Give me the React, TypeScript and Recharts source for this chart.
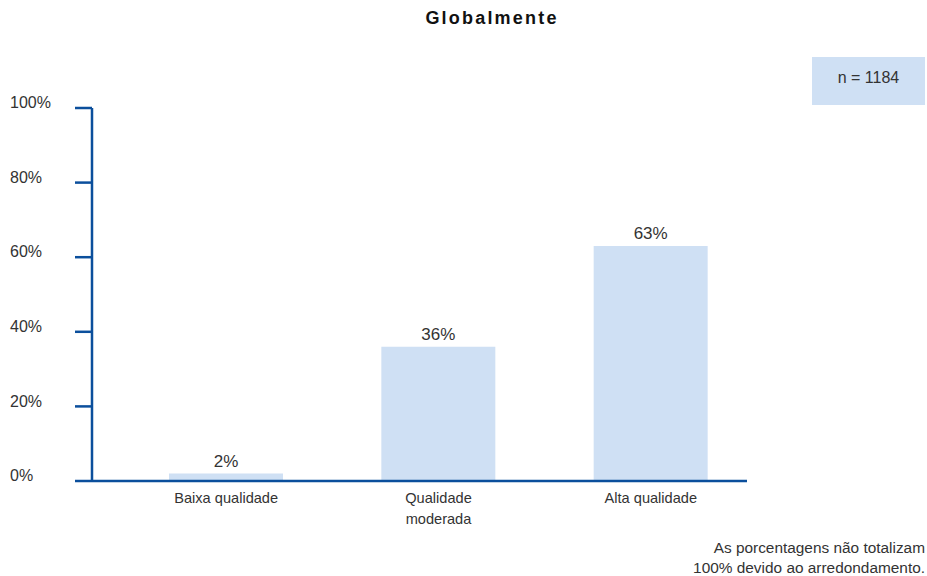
import { BarChart, Bar, XAxis, YAxis, LabelList } from 'recharts';

const categories = ['Baixa qualidade', 'Qualidade moderada', 'Alta qualidade'];
const categoryLines = [['Baixa qualidade'], ['Qualidade', 'moderada'], ['Alta qualidade']];
const shares = [2, 36, 63];
const yTicks = [0, 20, 40, 60, 80, 100];

const data = categories.map((name, i) => ({ name, value: shares[i] }));

const AXIS = '#0b4f9c';
const BAR = '#cfe0f4';
const TEXT = '#333333';
const FONT = '"Liberation Sans", Arial, sans-serif';

function YTick({ y, payload }: any) {
  return (
    <text x={10} y={y - 4} textAnchor="start" dominantBaseline="middle" fontSize={16} fill={TEXT} fontFamily={FONT}>
      {`${payload.value}%`}
    </text>
  );
}

function XTick({ x, y, payload }: any) {
  const idx = categories.indexOf(payload.value);
  const lines = categoryLines[idx] ?? [payload.value];
  return (
    <text x={x} y={y} textAnchor="middle" fontSize={14.6} fill={TEXT} fontFamily={FONT}>
      {lines.map((l, i) => (
        <tspan key={i} x={x} dy={i === 0 ? 14 : 21}>
          {l}
        </tspan>
      ))}
    </text>
  );
}

export default function App() {
  return (
    <div style={{ position: 'absolute', left: 0, top: 0, width: 927, height: 576, background: '#fff', fontFamily: FONT }}>
      <div
        style={{
          position: 'absolute',
          left: 0,
          width: 984,
          top: 8,
          textAlign: 'center',
          fontSize: 18,
          fontWeight: 900,
          letterSpacing: 2.2,
          color: '#111',
        }}
      >
        Globalmente
      </div>
      <div
        style={{
          position: 'absolute',
          left: 812,
          top: 57,
          width: 113,
          height: 48,
          background: BAR,
          fontSize: 16,
          color: TEXT,
          textAlign: 'center',
          lineHeight: '42px',
        }}
      >
        n = 1184
      </div>
      <div
        style={{
          position: 'absolute',
          right: 2,
          top: 538,
          textAlign: 'right',
          fontSize: 15.4,
          lineHeight: '20px',
          color: TEXT,
        }}
      >
        As porcentagens não totalizam
        <br />
        100% devido ao arredondamento.
      </div>
      <BarChart
        width={927}
        height={576}
        data={data}
        margin={{ top: 108, right: 180, left: 0, bottom: 0 }}
        barSize={114}
      >
        <XAxis
          dataKey="name"
          height={95}
          padding={{ left: 28, right: -10 }}
          tickLine={false}
          axisLine={{ stroke: AXIS, strokeWidth: 2.5 }}
          tick={<XTick />}
          interval={0}
        />
        <YAxis
          width={92}
          domain={[0, 100]}
          ticks={yTicks}
          tickSize={17}
          tickLine={{ stroke: AXIS, strokeWidth: 2.5 }}
          axisLine={{ stroke: AXIS, strokeWidth: 2.5 }}
          tick={<YTick />}
        />
        <Bar dataKey="value" fill={BAR} isAnimationActive={false}>
          <LabelList
            dataKey="value"
            position="top"
            offset={7}
            formatter={(v: any) => `${v}%`}
            style={{ fontSize: 17, fill: TEXT, fontFamily: FONT }}
          />
        </Bar>
      </BarChart>
    </div>
  );
}
